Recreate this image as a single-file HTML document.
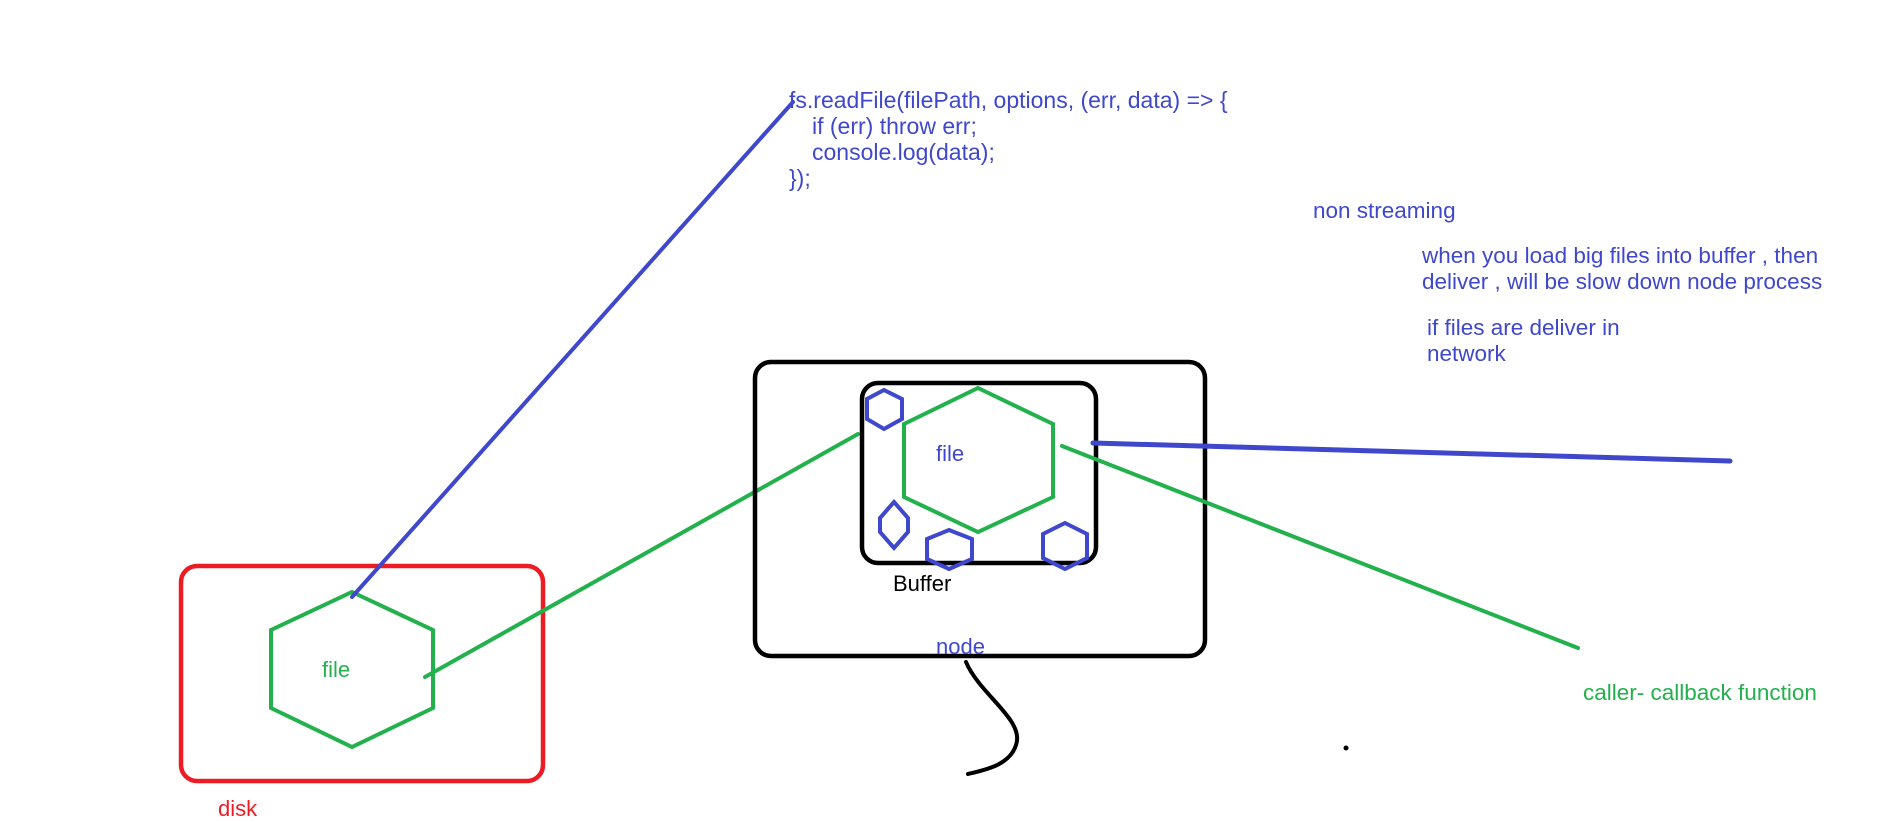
<!DOCTYPE html>
<html><head><meta charset="utf-8"><style>
html,body{margin:0;padding:0;background:#fff;}
svg{display:block;}
text{font-family:"Liberation Sans",Arial,sans-serif;font-size:22.5px;}
</style></head><body>
<svg width="1901" height="822" viewBox="0 0 1901 822" xmlns="http://www.w3.org/2000/svg">
<rect x="0" y="0" width="1901" height="822" fill="#fff"/>
<!-- disk -->
<rect x="181" y="566" width="362" height="215" rx="16" fill="none" stroke="#ed1c24" stroke-width="4.5"/>
<text x="218" y="816" fill="#ed1c24" style="font-size:22px">disk</text>
<polygon points="352,592 433,630 433,708 352,747 271,708 271,630" fill="none" stroke="#22b14c" stroke-width="4"/>
<text x="322" y="677" fill="#22b14c" style="font-size:22px">file</text>
<line x1="425" y1="677" x2="858" y2="434" stroke="#22b14c" stroke-width="4" stroke-linecap="round"/>
<line x1="352" y1="597" x2="793" y2="102" stroke="#3f48cc" stroke-width="4" stroke-linecap="round"/>
<!-- node -->
<rect x="755" y="362" width="450" height="294" rx="16" fill="none" stroke="#000" stroke-width="4.5"/>
<rect x="862" y="383" width="234" height="180" rx="16" fill="none" stroke="#000" stroke-width="4.5"/>
<text x="893" y="591" fill="#000" style="font-size:22px">Buffer</text>
<text x="936" y="654" fill="#3f48cc" style="font-size:22px">node</text>
<polygon points="978,388 1053,424 1053,497 978,532 904,497 904,424" fill="none" stroke="#22b14c" stroke-width="4"/>
<text x="936" y="461" fill="#3f48cc" style="font-size:22px">file</text>
<polygon points="884,390 902,399 902,419 884,429 867,419 867,399" fill="none" stroke="#3f48cc" stroke-width="4"/>
<polygon points="894,502 908,518 908,532 894,548 880,532 880,518" fill="none" stroke="#3f48cc" stroke-width="4"/>
<polygon points="949,530 972,539 972,559 949,569 927,559 927,539" fill="none" stroke="#3f48cc" stroke-width="4"/>
<polygon points="1065,523 1087,534 1087,558 1065,569 1043,558 1043,534" fill="none" stroke="#3f48cc" stroke-width="4"/>
<line x1="1062" y1="446" x2="1578" y2="648" stroke="#22b14c" stroke-width="4" stroke-linecap="round"/>
<line x1="1093" y1="443" x2="1730" y2="461" stroke="#3f48cc" stroke-width="5" stroke-linecap="round"/>
<path d="M966,662 C980,695 1025,720 1016,745 C1010,765 985,770 968,774" fill="none" stroke="#000" stroke-width="4" stroke-linecap="round"/>
<circle cx="1346" cy="748" r="2.5" fill="#000"/>
<!-- texts -->
<text fill="#3f48cc" style="font-size:23px">
<tspan x="789" y="108">fs.readFile(filePath, options, (err, data) =&gt; {</tspan>
<tspan x="812" y="134">if (err) throw err;</tspan>
<tspan x="812" y="160">console.log(data);</tspan>
<tspan x="789" y="186">});</tspan>
</text>
<text x="1313" y="218" fill="#3f48cc">non streaming</text>
<text fill="#3f48cc"><tspan x="1422" y="263">when you load big files into buffer , then</tspan><tspan x="1422" y="289">deliver , will be slow down node process</tspan></text>
<text fill="#3f48cc"><tspan x="1427" y="335">if files are deliver in</tspan><tspan x="1427" y="361">network</tspan></text>
<text x="1583" y="700" fill="#22b14c">caller- callback function</text>
</svg>
</body></html>
